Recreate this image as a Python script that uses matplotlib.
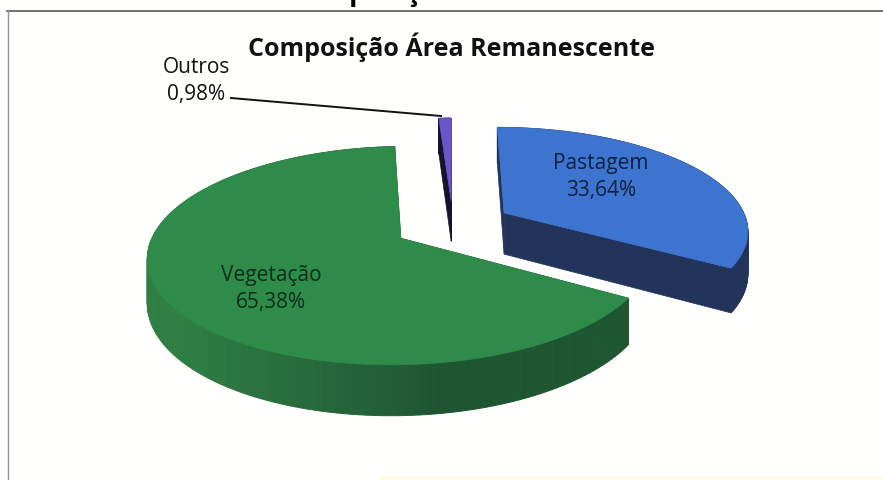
import numpy as np
from matplotlib import pyplot as plt
from matplotlib.patches import Polygon

labels = ["Pastagem", "Vegetação", "Outros"]
percents = [33.64, 65.38, 0.98]
percent_text = ["33,64%", "65,38%", "0,98%"]
chart_title = "Composição Área Remanescente"
page_title = "Composição"

top_colors = ["#3c74cf", "#2e8b49", "#6a56c6"]
wall_light = ["#27406f", "#2f7f45", "#221f55"]
wall_dark = ["#22345a", "#1f5632", "#15142f"]

# camera: everything is in image pixels, the pie is a flat disc seen in perspective
CX, CY = 453, 226
RX, RY = 244, 102.3
K = 0.1555
DEPTH = 42
EXPLODE = 0.245
START = 90


def project(x, y):
    d = 1 + K * y
    return CX + RX * x / d, CY - RY * y / d, DEPTH / d


def mix(a, b, t):
    a = np.array(plt.matplotlib.colors.to_rgb(a))
    b = np.array(plt.matplotlib.colors.to_rgb(b))
    return tuple(a + (b - a) * t)


plt.rcParams['font.family'] = ['Open Sans', 'DejaVu Sans']
fig = plt.figure(figsize=(8.83, 4.81), dpi=100, facecolor="#fefefc")
ax = fig.add_axes([0, 0, 1, 1])
ax.set_xlim(0, 883)
ax.set_ylim(481, 0)
ax.axis("off")

# scanned page: frame and the cut off heading above it
ax.plot([7, 883], [11.5, 11.5], color="#666666", lw=1.3)
ax.plot([7.5, 7.5], [11, 481], color="#8a9a9a", lw=1)
ax.axhspan(477, 481, xmin=0.43, xmax=1, color="#fdfbe6", lw=0)
ax.text(371, 0, page_title, ha="center", va="baseline", fontsize=20,
        fontweight="bold", color="black")

angle = START
slices = []
for p in percents:
    sweep = p / 100 * 360
    slices.append((angle, angle - sweep))
    angle -= sweep

for i in [1, 2, 0]:
    a0, a1 = slices[i]
    mid = np.radians((a0 + a1) / 2)
    ex, ey = EXPLODE * np.cos(mid), EXPLODE * np.sin(mid)
    th = np.radians(np.linspace(a0, a1, 160))
    x = ex + np.cos(th)
    y = ey + np.sin(th)
    sx, sy, dz = project(x, y)
    ax0, ay0, adz = project(ex, ey)

    # cut walls
    for j in [0, -1]:
        wall = [(ax0, ay0), (sx[j], sy[j]), (sx[j], sy[j] + dz[j]), (ax0, ay0 + adz)]
        ax.add_patch(Polygon(wall, closed=True, fc=wall_dark[i], ec=wall_dark[i], lw=0.5))
    # outer wall, darker towards the front right
    for j in range(len(th) - 1):
        t = np.clip((sx[j] - 180) / 260, 0, 1)
        c = mix(wall_light[i], wall_dark[i], t)
        quad = [(sx[j], sy[j]), (sx[j + 1], sy[j + 1]),
                (sx[j + 1], sy[j + 1] + dz[j + 1]), (sx[j], sy[j] + dz[j])]
        ax.add_patch(Polygon(quad, closed=True, fc=c, ec=c, lw=0.7))
    # top face
    face = [(ax0, ay0)] + list(zip(sx, sy))
    ax.add_patch(Polygon(face, closed=True, fc=top_colors[i], ec=top_colors[i], lw=0.5))

ax.text(451, 47, chart_title, ha="center", va="center", fontsize=18,
        fontweight="bold", color="#111111")
ax.text(601, 177, labels[0] + "\n" + percent_text[0], ha="center", va="center",
        fontsize=15, color="#10203f", linespacing=1.35)
ax.text(271, 289, labels[1] + "\n" + percent_text[1], ha="center", va="center",
        fontsize=15, color="#0c2d18", linespacing=1.35)
ax.text(196, 81, labels[2] + "\n" + percent_text[2], ha="center", va="center",
        fontsize=15, color="#111111", linespacing=1.35)
ax.plot([231, 441], [99, 117], color="#111111", lw=1.4)

fig.savefig("out.png", dpi=100, facecolor=fig.get_facecolor())
